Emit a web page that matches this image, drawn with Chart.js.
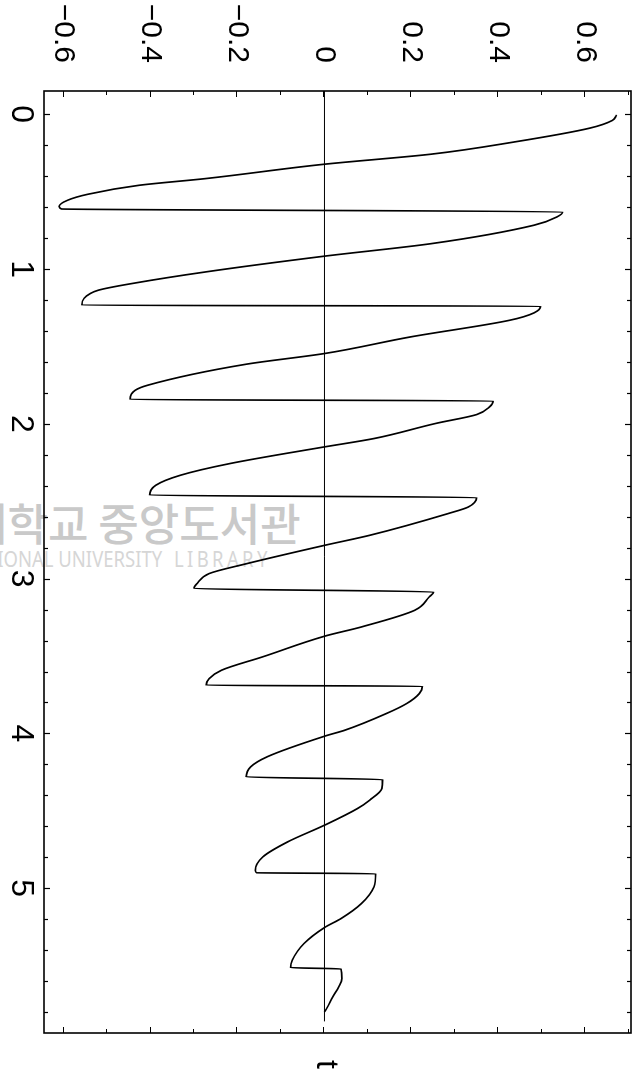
<!DOCTYPE html>
<html>
<head>
<meta charset="utf-8">
<script src="https://cdn.jsdelivr.net/npm/chart.js@4.4.1/dist/chart.umd.min.js"></script>
<style>
  html, body { margin: 0; padding: 0; background: #fff; overflow: hidden; }
  #page { position: relative; width: 642px; height: 1069px; overflow: hidden; }
  /* the plot is drawn upright and turned a quarter clockwise, like the scan */
  #chart { position: absolute; left: 0; top: 0; transform-origin: 0 0; transform: translate(642px, 0) rotate(90deg); }
  .stamp { position: absolute; white-space: nowrap; line-height: 1; transform-origin: 0 0; }
  #stampKo { left: -33px; top: 490px; font: 500 44px "Noto Sans CJK KR", sans-serif; color: #c9c9c9; }
  #stampEn1 { left: -13px; top: 543px; font: 22px "Noto Sans", sans-serif; color: #d6d6d6; transform: scaleX(0.84); }
  #stampEn2 { left: 174px; top: 543px; font: 22px "Noto Sans", sans-serif; color: #d6d6d6; letter-spacing: 4px; transform: scaleX(0.84); }
</style>
</head>
<body>
<div id="page">
  <div class="stamp" id="stampKo">대학교 중앙도서관</div>
  <div class="stamp" id="stampEn1">TIONAL UNIVERSITY</div>
  <div class="stamp" id="stampEn2">LIBRARY</div>
  <canvas id="chart" width="1069" height="642"></canvas>
</div>
<script>
// time t and response u
const timeValues = [
  0.005, 0.04, 0.09, 0.18, 0.258, 0.323, 0.416, 0.459, 0.517, 0.556, 0.595, 0.612,
  0.631, 0.663, 0.717, 0.836, 0.917, 1.019, 1.09, 1.137, 1.19, 1.234,
  1.24, 1.283, 1.331, 1.438, 1.546, 1.615, 1.751, 1.783, 1.843,
  1.852, 1.89, 1.94, 1.998, 2.095, 2.149, 2.257, 2.332, 2.397, 2.461,
  2.476, 2.537, 2.58, 2.72, 2.785, 2.904, 2.967, 3.032, 3.064,
  3.086, 3.118, 3.204, 3.312, 3.372, 3.505, 3.592, 3.646, 3.689,
  3.695, 3.743, 3.807, 3.872, 3.979, 4.018, 4.151, 4.216, 4.281,
  4.298, 4.356, 4.431, 4.485, 4.593, 4.701, 4.798, 4.884, 4.9,
  4.906, 4.991, 5.099, 5.196, 5.254, 5.357, 5.465, 5.513,
  5.521, 5.583, 5.637, 5.702, 5.777, 5.798
];
const responseValues = [
  0.672, 0.662, 0.61, 0.435, 0.246, 0, -0.274, -0.426, -0.544, -0.591, -0.61, -0.605,
  0.548, 0.535, 0.482, 0.246, 0, -0.274, -0.435, -0.52, -0.553, -0.558,
  0.497, 0.482, 0.426, 0.199, 0, -0.18, -0.407, -0.435, -0.447,
  0.388, 0.38, 0.35, 0.255, 0.114, 0, -0.218, -0.331, -0.388, -0.402,
  0.35, 0.331, 0.284, 0.104, 0, -0.18, -0.265, -0.293, -0.3,
  0.251, 0.241, 0.208, 0.085, 0, -0.142, -0.237, -0.265, -0.272,
  0.225, 0.218, 0.189, 0.142, 0.047, 0, -0.132, -0.17, -0.18,
  0.134, 0.132, 0.104, 0.076, 0, -0.085, -0.142, -0.159, -0.156,
  0.118, 0.114, 0.085, 0.038, 0, -0.047, -0.074, -0.078,
  0.038, 0.04, 0.033, 0.019, 0.005, 0
];

// reference line u = 0
const zeroLineT = [-0.15, 5.86];
const zeroLineU = [0, 0];

const tTickValues = [0, 1, 2, 3, 4, 5];
const tTickLabels = ['0', '1', '2', '3', '4', '5'];
const uTickValues = [-0.6, -0.4, -0.2, 0, 0.2, 0.4, 0.6];
const uTickLabels = ['\u22120.6', '\u22120.4', '\u22120.2', '0', '0.2', '0.4', '0.6'];
const tTitle = 't';

const curve = timeValues.map((t, i) => ({ x: t, y: responseValues[i] }));
const zeroLine = zeroLineT.map((t, i) => ({ x: t, y: zeroLineU[i] }));

const labelFont = '"Liberation Sans Narrow", "Liberation Sans", Arial, sans-serif';

function labelFor(v, values, labels) {
  const i = values.findIndex(w => Math.abs(w - v) < 1e-6);
  return i < 0 ? '' : labels[i];
}

// box round the plot, inward ticks on all four sides, and the t title
const frame = {
  id: 'frame',
  afterDatasetsDraw(chart) {
    const { ctx, chartArea: a, scales } = chart;
    ctx.save();
    ctx.strokeStyle = '#000';
    ctx.lineWidth = 1.2;
    ctx.beginPath();
    scales.x.ticks.forEach(tk => {
      const px = Math.round(scales.x.getPixelForValue(tk.value)) + 0.5;
      const len = labelFor(tk.value, tTickValues, tTickLabels) ? 6 : 4;
      ctx.moveTo(px, a.bottom); ctx.lineTo(px, a.bottom - len);
      ctx.moveTo(px, a.top); ctx.lineTo(px, a.top + len);
    });
    scales.y.ticks.forEach(tk => {
      const py = Math.round(scales.y.getPixelForValue(tk.value)) + 0.5;
      const len = labelFor(tk.value, uTickValues, uTickLabels) ? 6 : 4;
      ctx.moveTo(a.left, py); ctx.lineTo(a.left + len, py);
      ctx.moveTo(a.right, py); ctx.lineTo(a.right - len, py);
    });
    ctx.stroke();
    ctx.lineWidth = 1.6;
    ctx.strokeRect(a.left, a.top, a.right - a.left, a.bottom - a.top);

    ctx.fillStyle = '#000';
    ctx.font = '32px ' + labelFont;
    ctx.textAlign = 'left';
    ctx.textBaseline = 'alphabetic';
    ctx.fillText(tTitle, a.right + 27, (a.top + a.bottom) / 2 + 20);
    ctx.restore();
  }
};

new Chart(document.getElementById('chart'), {
  type: 'scatter',
  data: {
    datasets: [
      {
        data: zeroLine,
        showLine: true,
        borderColor: '#000',
        borderWidth: 1,
        pointRadius: 0
      },
      {
        data: curve,
        showLine: true,
        borderColor: '#000',
        borderWidth: 1.7,
        pointRadius: 0,
        cubicInterpolationMode: 'monotone'
      }
    ]
  },
  options: {
    responsive: false,
    animation: false,
    devicePixelRatio: 1,
    layout: { padding: { top: 11, right: 36, left: 0, bottom: 0 } },
    plugins: {
      legend: { display: false },
      tooltip: { enabled: false }
    },
    scales: {
      x: {
        type: 'linear',
        position: 'bottom',
        min: -0.15,
        max: 5.935,
        grid: { display: false, drawTicks: false },
        border: { display: false },
        ticks: {
          stepSize: 0.2,
          includeBounds: false,
          autoSkip: false,
          maxRotation: 0,
          minRotation: 0,
          padding: 4,
          color: '#000',
          font: { family: labelFont, size: 32 },
          callback: v => labelFor(v, tTickValues, tTickLabels)
        },
        afterFit: s => { s.height = 44; s.paddingLeft = 0; s.paddingRight = 0; }
      },
      y: {
        type: 'linear',
        position: 'left',
        min: -0.645,
        max: 0.705,
        grid: { display: false, drawTicks: false },
        border: { display: false },
        ticks: {
          stepSize: 0.1,
          includeBounds: false,
          autoSkip: false,
          padding: 28,
          color: '#000',
          font: { family: labelFont, size: 30 },
          callback: v => labelFor(v, uTickValues, uTickLabels)
        },
        afterFit: s => { s.width = 91; s.paddingTop = 0; s.paddingBottom = 0; }
      }
    }
  },
  plugins: [frame]
});
</script>
</body>
</html>
